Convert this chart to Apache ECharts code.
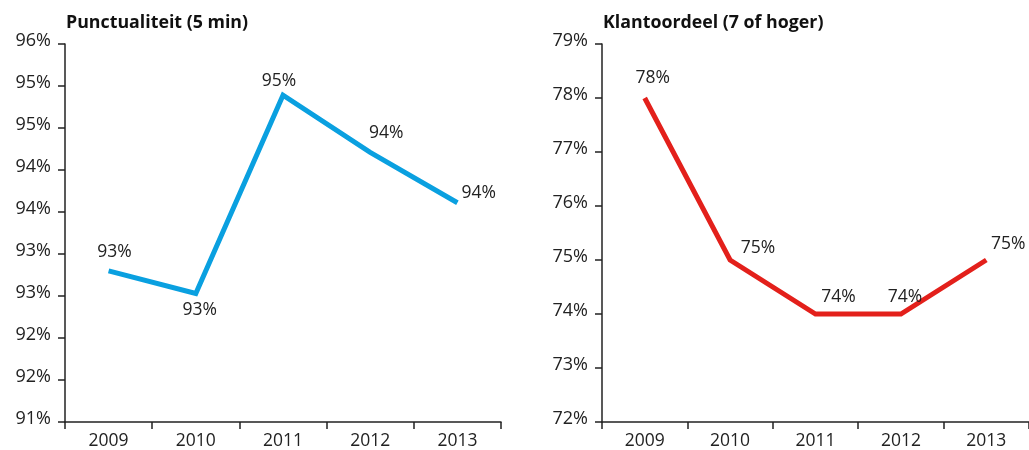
<!DOCTYPE html>
<html><head><meta charset="utf-8">
<script src="https://cdn.jsdelivr.net/npm/echarts@6/dist/echarts.min.js"></script>
<style>html,body{margin:0;padding:0;background:#fff}#c{width:1029px;height:450px}</style>
</head><body><div id="c"></div>
<script>
const years = ['2009','2010','2011','2012','2013'];
const punctualiteit = [93.3, 93.03, 95.39, 94.71, 94.11];
const klantoordeel = [78.0, 75.0, 74.0, 74.0, 75.0];
const titles = ['Punctualiteit (5 min)', 'Klantoordeel (7 of hoger)'];

const FONT = 'Open Sans';
const chart = echarts.init(document.getElementById('c'), null, {renderer:'canvas'});
const axisLine = {show:true, lineStyle:{color:'#222', width:1.5}};
const pct = v => Math.floor(v + 1e-6) + '%';
function xAxis(gi){
  return {type:'category', gridIndex:gi, data:years, boundaryGap:true,
    axisLine:axisLine, axisTick:{show:true, length:7, lineStyle:{color:'#222', width:1.5}},
    axisLabel:{color:'#222', fontFamily:FONT, fontSize:17.5, margin:10}};
}
function yAxis(gi, min, max, interval){
  return {type:'value', gridIndex:gi, min:min, max:max, interval:interval,
    axisLine:axisLine, splitLine:{show:false},
    axisTick:{show:true, length:7, lineStyle:{color:'#222', width:1.5}},
    axisLabel:{color:'#222', fontFamily:FONT, fontSize:18, margin:14, verticalAlign:'bottom', lineHeight:7, formatter:pct}};
}
const labStyle = {show:true, color:'#222', fontFamily:FONT, fontSize:17.5, formatter:p=>pct(p.value)};
const leftPos = ['top','bottom','top','top','right'];
const leftOff = [[6,-4],[4,2],[-4,1],[16,-4],[-2,-10]];
const rightPos = ['top','top','top','top','top'];
const rightOff = [[8,-5],[28,3],[23,-2],[4,-2],[22,-1]];
function mk(vals, pos, off){
  return vals.map((v,i)=>({value:v, label:Object.assign({}, labStyle, {position:pos[i], offset:off[i]})}));
}
chart.setOption({
  animation:false,
  title:[
    {text:titles[0], left:61, top:9, textStyle:{fontFamily:FONT, fontSize:17.8, fontWeight:'bold', color:'#111'}},
    {text:titles[1], left:598, top:9, textStyle:{fontFamily:FONT, fontSize:17.8, fontWeight:'bold', color:'#111'}}
  ],
  grid:[
    {left:65, top:44, width:436, height:379},
    {left:602, top:44, width:436, height:379}
  ],
  xAxis:[xAxis(0), xAxis(1)],
  yAxis:[yAxis(0, 91.5, 96, 0.5), yAxis(1, 72, 79, 1)],
  series:[
    {type:'line', xAxisIndex:0, yAxisIndex:0, symbol:'circle', symbolSize:2, showSymbol:true,
     itemStyle:{color:'rgba(0,0,0,0)', borderWidth:0},
     lineStyle:{color:'#0aa0e0', width:5, cap:'butt', join:'miter'},
     data:mk(punctualiteit, leftPos, leftOff), label:labStyle},
    {type:'line', xAxisIndex:1, yAxisIndex:1, symbol:'circle', symbolSize:2, showSymbol:true,
     itemStyle:{color:'rgba(0,0,0,0)', borderWidth:0},
     lineStyle:{color:'#e3201b', width:5, cap:'butt', join:'miter'},
     data:mk(klantoordeel, rightPos, rightOff), label:labStyle}
  ]
});
</script></body></html>
